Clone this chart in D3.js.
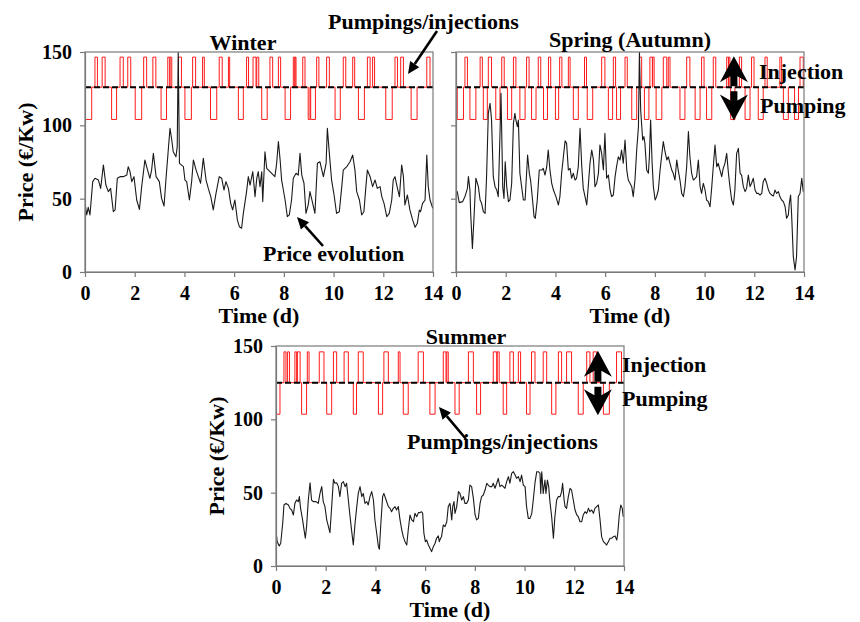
<!DOCTYPE html>
<html>
<head>
<meta charset="utf-8">
<script src="https://cdn.jsdelivr.net/npm/d3@7"></script>
<style>
  body { margin: 0; background: #fff; }
  text { font-family: 'Liberation Serif', 'Times New Roman', serif; font-weight: bold; fill: #000; }
</style>
</head>
<body>
<svg id="chart" width="860" height="622"></svg>
<script>
// ---- axis ticks ----
const dayTicks = [0, 2, 4, 6, 8, 10, 12, 14];
const priceTicks = [0, 50, 100, 150];
const dayDomain = [0, 14];
const priceDomain = [0, 150];

// ---- storage operation levels (price units on the shared axis) ----
const winterLevels = { idle: 126, inject: 146.5, pump: 104 };
const springLevels = { idle: 126, inject: 146.5, pump: 104 };
const summerLevels = { idle: 125, inject: 146, pump: 103.5 };

// ---- winter: price (day, €/Kw) ----
const winterPrice = [[0.00,46.8],[0.07,38.9],[0.13,44.1],[0.20,38.9],[0.31,61.6],[0.40,63.9],[0.54,62.7],[0.63,57.0],[0.74,73.0],[0.84,59.3],[0.94,54.8],[1.03,57.0],[1.14,41.1],[1.21,42.3],[1.30,63.9],[1.41,65.0],[1.54,65.0],[1.68,66.1],[1.74,71.8],[1.81,68.4],[1.88,61.6],[1.97,65.0],[2.08,49.1],[2.19,42.7],[2.28,58.2],[2.41,76.4],[2.48,71.8],[2.61,63.9],[2.68,69.5],[2.75,80.9],[2.86,65.0],[2.99,61.6],[3.08,50.2],[3.18,45.0],[3.26,63.9],[3.35,83.2],[3.42,98.0],[3.49,90.0],[3.55,82.0],[3.66,78.6],[3.71,85.5],[3.75,150],[3.80,74.1],[3.96,71.8],[4.02,62.7],[4.09,61.6],[4.20,49.1],[4.29,61.6],[4.36,76.4],[4.47,69.5],[4.56,65.0],[4.65,60.5],[4.76,77.5],[4.87,62.7],[4.96,57.0],[5.06,51.4],[5.16,42.3],[5.27,53.6],[5.40,65.0],[5.50,63.9],[5.59,55.9],[5.67,61.6],[5.77,57.0],[5.86,46.8],[5.94,42.3],[6.03,49.1],[6.13,35.5],[6.21,30.9],[6.30,29.8],[6.37,40.0],[6.50,54.8],[6.57,65.0],[6.64,59.3],[6.75,68.4],[6.84,51.4],[6.91,63.9],[6.97,68.4],[7.04,58.2],[7.11,68.4],[7.15,48.0],[7.24,82.0],[7.31,70.7],[7.38,69.5],[7.51,67.3],[7.64,65.0],[7.71,74.1],[7.78,88.9],[7.85,76.4],[7.91,62.7],[7.98,55.9],[8.05,49.1],[8.14,37.7],[8.22,38.9],[8.31,49.1],[8.38,63.9],[8.49,67.3],[8.58,66.1],[8.65,80.9],[8.72,66.1],[8.81,60.5],[8.89,40.0],[8.98,45.7],[9.05,54.8],[9.16,46.8],[9.25,40.0],[9.35,74.1],[9.45,75.2],[9.59,65.0],[9.70,74.1],[9.75,98.0],[9.83,80.9],[9.92,62.7],[10.02,52.5],[10.12,40.0],[10.23,41.1],[10.33,58.2],[10.39,69.5],[10.53,71.8],[10.66,75.2],[10.77,79.8],[10.86,69.5],[10.93,54.8],[11.04,49.1],[11.13,38.9],[11.22,41.1],[11.30,58.2],[11.36,69.5],[11.47,65.0],[11.57,58.2],[11.67,62.7],[11.76,57.0],[11.87,58.2],[11.94,51.4],[12.03,46.8],[12.14,37.7],[12.24,40.0],[12.34,49.1],[12.40,62.7],[12.47,65.0],[12.57,57.0],[12.65,51.4],[12.74,73.0],[12.81,65.0],[12.87,45.7],[12.97,52.5],[13.07,42.3],[13.18,35.5],[13.28,30.5],[13.37,33.2],[13.45,42.3],[13.50,41.1],[13.58,46.8],[13.68,49.1],[13.75,79.8],[13.81,58.2],[13.88,49.1],[13.99,43.4]];

// winter injection / pumping periods [start day, end day]
const winterInject = [[0.40,0.50],[0.69,0.81],[1.41,1.54],[1.72,1.84],[2.36,2.48],[2.73,2.85],[3.33,3.41],[3.42,3.49],[3.76,3.88],[4.33,4.45],[4.73,4.80],[5.40,5.52],[5.77,5.82],[6.50,6.58],[6.76,6.88],[6.91,6.99],[7.44,7.55],[7.78,7.87],[8.38,8.44],[8.45,8.49],[8.76,8.85],[9.32,9.41],[9.72,9.83],[10.39,10.49],[10.77,10.85],[11.36,11.47],[11.57,11.65],[12.47,12.57],[12.70,12.81],[13.75,13.88]];
const winterPump = [[0.00,0.27],[1.07,1.27],[2.02,2.28],[3.06,3.28],[4.02,4.28],[5.05,5.30],[6.17,6.37],[7.11,7.33],[8.05,8.27],[8.98,9.05],[9.08,9.27],[10.06,10.27],[11.00,11.24],[12.10,12.36],[13.12,13.36]];

// ---- spring (autumn): price ----
const springPrice = [[0.00,53.6],[0.05,54.8],[0.13,47.3],[0.27,48.0],[0.36,51.4],[0.46,57.0],[0.50,65.0],[0.56,55.9],[0.59,40.0],[0.66,16.1],[0.72,35.5],[0.80,63.9],[0.90,58.2],[0.97,49.1],[1.03,46.8],[1.10,41.1],[1.17,40.0],[1.23,65.0],[1.30,108.2],[1.37,115.0],[1.43,103.6],[1.50,65.0],[1.57,58.2],[1.64,55.9],[1.70,51.4],[1.77,94.5],[1.81,121.8],[1.88,58.2],[1.93,50.2],[1.98,75.2],[2.04,58.2],[2.11,48.0],[2.17,49.1],[2.24,60.5],[2.31,101.4],[2.37,108.2],[2.41,103.6],[2.47,99.1],[2.51,103.6],[2.57,67.3],[2.64,58.2],[2.71,49.1],[2.78,49.1],[2.84,67.3],[2.88,79.8],[2.95,67.3],[3.00,62.7],[3.08,49.1],[3.14,37.7],[3.19,36.6],[3.27,49.1],[3.35,69.5],[3.45,69.5],[3.51,70.7],[3.58,66.1],[3.65,71.8],[3.71,83.2],[3.78,69.5],[3.85,60.5],[3.92,55.9],[4.02,51.4],[4.12,45.7],[4.18,51.4],[4.25,67.3],[4.32,78.6],[4.39,89.5],[4.45,87.7],[4.52,69.5],[4.59,70.7],[4.65,63.9],[4.72,67.3],[4.79,62.7],[4.85,63.9],[4.92,71.8],[4.99,98.0],[5.06,71.8],[5.12,57.0],[5.19,51.4],[5.26,45.7],[5.32,58.2],[5.39,74.1],[5.46,83.2],[5.53,76.4],[5.59,58.2],[5.66,60.5],[5.73,67.3],[5.79,86.6],[5.86,80.9],[5.93,69.5],[5.99,94.5],[6.06,63.9],[6.13,66.1],[6.20,55.9],[6.26,51.4],[6.33,52.5],[6.40,65.0],[6.46,71.8],[6.53,78.6],[6.60,76.4],[6.66,83.2],[6.73,74.1],[6.80,90.0],[6.87,69.5],[6.93,62.7],[7.00,60.5],[7.07,58.2],[7.13,51.4],[7.20,62.7],[7.27,83.2],[7.34,99.1],[7.38,150],[7.43,110.5],[7.51,90.0],[7.56,92.3],[7.60,87.7],[7.67,69.5],[7.74,67.3],[7.78,78.6],[7.83,103.6],[7.89,74.1],[7.94,58.2],[8.01,49.1],[8.07,51.4],[8.14,55.9],[8.21,69.5],[8.27,78.6],[8.34,88.9],[8.41,82.0],[8.48,76.4],[8.54,78.6],[8.61,74.1],[8.68,69.5],[8.74,67.3],[8.81,62.7],[8.88,76.4],[8.94,69.5],[9.01,62.7],[9.08,53.6],[9.15,51.4],[9.21,58.2],[9.28,71.8],[9.35,95.7],[9.41,78.6],[9.48,67.3],[9.55,62.7],[9.62,63.9],[9.68,65.0],[9.75,76.4],[9.82,58.2],[9.88,53.6],[9.95,60.5],[10.02,55.9],[10.08,49.1],[10.15,48.0],[10.22,44.5],[10.29,58.2],[10.35,71.8],[10.42,86.6],[10.49,71.8],[10.55,74.1],[10.62,69.5],[10.69,65.0],[10.75,70.7],[10.82,74.1],[10.89,80.9],[10.96,67.3],[11.02,58.2],[11.09,49.1],[11.16,45.7],[11.22,55.9],[11.29,80.9],[11.36,84.3],[11.43,67.3],[11.49,66.1],[11.56,58.2],[11.63,54.8],[11.69,57.0],[11.76,66.1],[11.83,58.2],[11.89,60.5],[11.96,63.9],[12.03,55.9],[12.10,53.6],[12.16,53.6],[12.23,52.5],[12.30,53.6],[12.36,61.6],[12.43,63.9],[12.50,60.5],[12.57,55.9],[12.63,53.6],[12.70,52.5],[12.77,51.8],[12.83,55.9],[12.90,53.6],[12.97,54.8],[13.03,51.4],[13.10,49.1],[13.17,48.0],[13.24,44.5],[13.30,36.6],[13.37,38.9],[13.41,46.8],[13.46,52.5],[13.50,40.0],[13.57,10.5],[13.64,1.4],[13.70,10.5],[13.77,51.4],[13.84,53.6],[13.91,63.9],[13.97,54.8]];

const springInject = [[0.36,0.46],[0.97,1.06],[1.30,1.43],[1.84,1.94],[2.31,2.41],[2.84,2.94],[3.31,3.41],[3.72,3.81],[4.17,4.26],[4.52,4.59],[5.17,5.25],[5.86,5.99],[6.33,6.42],[6.80,6.89],[7.38,7.47],[7.80,7.90],[7.91,7.97],[8.34,8.48],[8.54,8.61],[9.28,9.41],[9.88,9.98],[10.35,10.45],[10.89,10.96],[10.97,11.02],[11.40,11.49],[11.89,11.99],[12.43,12.52],[13.03,13.10],[13.84,13.97]];
const springPump = [[0.05,0.30],[0.56,0.80],[1.10,1.26],[1.60,1.77],[2.07,2.24],[2.57,2.78],[3.04,3.22],[3.52,3.68],[4.00,4.13],[4.72,4.92],[5.28,5.50],[6.13,6.30],[6.46,6.62],[7.07,7.27],[7.58,7.76],[8.05,8.28],[9.01,9.21],[9.62,9.82],[10.08,10.29],[11.05,11.22],[11.63,11.83],[12.16,12.36],[13.17,13.37],[13.62,13.78]];

// ---- summer: price ----
const summerPrice = [[0.00,23.4],[0.05,16.6],[0.13,13.6],[0.19,15.5],[0.27,29.1],[0.32,41.6],[0.40,42.7],[0.50,41.6],[0.56,39.3],[0.63,38.2],[0.70,34.8],[0.76,42.7],[0.83,45.0],[0.90,43.9],[0.94,47.3],[0.99,39.3],[1.07,31.4],[1.13,24.5],[1.18,18.9],[1.23,26.8],[1.30,45.0],[1.37,56.8],[1.43,45.0],[1.50,43.9],[1.61,43.9],[1.70,42.7],[1.77,49.5],[1.84,54.1],[1.90,43.9],[1.97,40.5],[2.04,31.4],[2.11,26.8],[2.17,22.7],[2.24,40.5],[2.31,59.1],[2.37,56.4],[2.44,56.8],[2.51,54.1],[2.57,47.3],[2.64,56.4],[2.71,57.5],[2.78,54.1],[2.84,56.4],[2.91,45.0],[2.98,33.6],[3.04,24.5],[3.11,14.3],[3.18,29.1],[3.25,40.5],[3.31,49.5],[3.38,54.1],[3.45,47.3],[3.51,49.5],[3.58,42.7],[3.65,43.9],[3.71,41.6],[3.78,47.3],[3.85,50.7],[3.92,45.0],[3.98,31.4],[4.05,22.3],[4.12,13.2],[4.16,11.4],[4.21,26.8],[4.29,47.3],[4.34,49.5],[4.43,45.0],[4.52,40.5],[4.59,39.3],[4.65,37.0],[4.72,39.3],[4.79,40.5],[4.85,38.2],[4.92,40.5],[4.99,31.4],[5.06,24.5],[5.12,20.0],[5.19,16.6],[5.26,14.3],[5.32,24.5],[5.39,34.8],[5.46,31.4],[5.53,30.2],[5.59,35.9],[5.66,33.6],[5.73,36.4],[5.79,36.4],[5.86,37.0],[5.90,35.9],[5.95,22.3],[6.01,16.6],[6.06,17.7],[6.13,14.3],[6.20,12.0],[6.26,9.8],[6.33,13.2],[6.40,15.5],[6.46,18.9],[6.53,20.5],[6.57,16.6],[6.62,18.9],[6.66,20.0],[6.73,28.0],[6.80,26.8],[6.87,30.2],[6.93,40.5],[7.00,42.7],[7.07,31.4],[7.11,40.5],[7.16,43.9],[7.20,35.9],[7.27,40.5],[7.34,50.7],[7.40,49.5],[7.47,45.0],[7.54,47.3],[7.60,42.7],[7.67,42.7],[7.74,45.0],[7.80,55.2],[7.87,54.1],[7.94,46.1],[8.01,34.8],[8.07,31.4],[8.14,32.5],[8.21,42.7],[8.27,47.3],[8.34,48.4],[8.41,51.8],[8.48,56.4],[8.54,55.2],[8.61,54.1],[8.68,54.1],[8.74,56.4],[8.81,53.0],[8.88,56.4],[8.94,59.8],[9.01,54.1],[9.08,55.2],[9.15,54.1],[9.21,53.0],[9.28,57.5],[9.35,60.9],[9.41,56.4],[9.48,63.2],[9.55,64.3],[9.62,62.0],[9.68,59.8],[9.75,60.9],[9.82,57.5],[9.88,62.0],[9.95,55.2],[10.02,54.1],[10.08,40.5],[10.15,32.5],[10.22,32.5],[10.29,35.9],[10.35,45.0],[10.42,56.8],[10.49,64.3],[10.55,64.3],[10.62,63.2],[10.65,49.5],[10.69,64.3],[10.75,49.5],[10.82,58.6],[10.86,49.5],[10.92,58.6],[10.97,54.1],[11.02,43.9],[11.09,33.6],[11.16,18.9],[11.22,33.6],[11.29,45.0],[11.36,47.3],[11.43,47.3],[11.49,50.7],[11.53,56.4],[11.59,45.0],[11.63,40.5],[11.69,39.3],[11.76,47.3],[11.83,53.0],[11.89,51.8],[11.96,45.0],[12.03,38.2],[12.10,34.8],[12.16,33.6],[12.23,30.2],[12.30,30.2],[12.36,34.8],[12.43,37.0],[12.50,35.9],[12.57,39.3],[12.63,37.0],[12.70,38.2],[12.77,35.9],[12.83,39.3],[12.90,40.5],[12.97,41.6],[13.03,32.5],[13.10,20.0],[13.17,16.6],[13.24,15.5],[13.30,14.3],[13.37,16.6],[13.44,18.9],[13.50,18.9],[13.57,20.0],[13.64,20.5],[13.71,17.7],[13.75,22.3],[13.81,34.8],[13.87,41.6],[13.93,39.3],[13.97,33.6]];

const summerInject = [[0.32,0.40],[0.46,0.54],[0.76,0.83],[0.86,0.97],[1.26,1.33],[1.74,1.93],[2.31,2.44],[2.74,2.91],[3.31,3.51],[4.34,4.52],[4.92,4.99],[5.72,5.93],[6.73,6.84],[6.87,6.93],[7.74,7.94],[8.74,8.88],[8.90,8.98],[9.41,9.55],[9.75,9.84],[10.28,10.42],[10.75,10.89],[11.36,11.49],[11.69,11.89],[12.50,12.63],[12.76,12.90],[13.70,13.90]];
const summerPump = [[0.00,0.16],[1.03,1.23],[2.04,2.24],[3.11,3.24],[4.12,4.29],[5.12,5.32],[6.19,6.40],[7.20,7.37],[8.07,8.23],[9.14,9.28],[10.08,10.22],[11.09,11.26],[12.16,12.36],[13.17,13.41]];

// ---------------------------------------------------------------------------
const svg = d3.select('#chart');
const defs = svg.append('defs');
const PW = 348, PH = 220;
const FONT = "'Liberation Serif', 'Times New Roman', serif";

// Step trace: idle level, jumps to inject/pump level for each period
function operationTrace(inject, pump, lv) {
  const periods = inject.map(p => [p[0], p[1], lv.inject])
    .concat(pump.map(p => [p[0], p[1], lv.pump]))
    .sort((a, b) => a[0] - b[0]);
  const pts = [[dayDomain[0], lv.idle]];
  periods.forEach(([s, e, l]) => {
    pts.push([s, lv.idle], [s, l], [e, l], [e, lv.idle]);
  });
  pts.push([dayDomain[1], lv.idle]);
  return pts;
}

function arrowLine(g, x1, y1, x2, y2) {
  const ang = Math.atan2(y2 - y1, x2 - x1);
  const L = 12, W = 5.5;
  const bx = x2 - L * Math.cos(ang), by = y2 - L * Math.sin(ang);
  g.append('line').attr('x1', x1).attr('y1', y1).attr('x2', bx).attr('y2', by)
    .attr('stroke', '#000').attr('stroke-width', 2.6);
  g.append('path')
    .attr('d', `M${x2},${y2}L${bx - W * Math.sin(ang)},${by + W * Math.cos(ang)}L${bx + W * Math.sin(ang)},${by - W * Math.cos(ang)}Z`)
    .attr('fill', '#000');
}

// Bold up/down arrows marking injection (up) and pumping (down)
function bigArrows(g, cx, yIdle, yTop, yBot) {
  const hw = 14, head = 26, sw = 3.5;
  g.append('path')
    .attr('d', `M${cx},${yTop} L${cx + hw},${yTop + head} L${cx + sw},${yTop + head - 6} L${cx + sw},${yIdle - 1} L${cx - sw},${yIdle - 1} L${cx - sw},${yTop + head - 6} L${cx - hw},${yTop + head} Z`)
    .attr('fill', '#000');
  g.append('path')
    .attr('d', `M${cx},${yBot} L${cx + hw},${yBot - head} L${cx + sw},${yBot - head + 6} L${cx + sw},${yIdle + 4} L${cx - sw},${yIdle + 4} L${cx - sw},${yBot - head + 6} L${cx - hw},${yBot - head} Z`)
    .attr('fill', '#000');
}

function drawPanel(cfg) {
  const g = svg.append('g').attr('transform', `translate(${cfg.left},${cfg.top})`);
  const x = d3.scaleLinear().domain(dayDomain).range([0, PW]);
  const y = d3.scaleLinear().domain(priceDomain).range([PH, 0]);

  const clipId = 'clip-' + cfg.id;
  defs.append('clipPath').attr('id', clipId)
    .append('rect').attr('x', 0).attr('y', 0).attr('width', PW).attr('height', PH);

  const line = d3.line().x(d => x(d[0])).y(d => y(d[1]));
  const plot = g.append('g').attr('clip-path', `url(#${clipId})`);

  // pumping / injection schedule
  plot.append('path')
    .datum(operationTrace(cfg.inject, cfg.pump, cfg.levels))
    .attr('d', line)
    .attr('fill', 'none').attr('stroke', '#ff1a1a').attr('stroke-width', 1);

  // reference level
  plot.append('line')
    .attr('x1', x(dayDomain[0])).attr('x2', x(dayDomain[1]))
    .attr('y1', y(cfg.levels.idle)).attr('y2', y(cfg.levels.idle))
    .attr('stroke', '#000').attr('stroke-width', 2).attr('stroke-dasharray', '6,3');

  // price evolution
  plot.append('path')
    .datum(cfg.price)
    .attr('d', line)
    .attr('fill', 'none').attr('stroke', '#1a1a1a').attr('stroke-width', 1.1)
    .attr('stroke-linejoin', 'round');

  // frame
  g.append('rect').attr('x', 0).attr('y', 0).attr('width', PW).attr('height', PH)
    .attr('fill', 'none').attr('stroke', '#7a7a7a').attr('stroke-width', 1.2);

  // axes
  const xAxis = g.append('g').attr('transform', `translate(0,${PH})`)
    .call(d3.axisBottom(x).tickValues(dayTicks).tickSize(5).tickSizeOuter(0).tickPadding(9).tickFormat(d3.format('d')));
  const yAxis = g.append('g')
    .call(d3.axisLeft(y).tickValues(priceTicks).tickSize(5).tickSizeOuter(0).tickPadding(8)
      .tickFormat(cfg.yLabels ? d3.format('d') : () => ''));
  [xAxis, yAxis].forEach(a => {
    a.selectAll('.domain').attr('stroke', '#7a7a7a').attr('stroke-width', 1.2);
    a.selectAll('.tick line').attr('stroke', '#7a7a7a').attr('stroke-width', 1.2);
    a.selectAll('.tick text')
      .style('font-family', FONT)
      .style('font-weight', 'bold').style('font-size', '20px').attr('fill', '#000');
  });

  // title
  g.append('text').attr('x', cfg.titleX).attr('y', cfg.titleY)
    .attr('text-anchor', 'middle').style('font-size', '22px').text(cfg.title);

  // axis titles
  g.append('text').attr('x', PW / 2).attr('y', PH + 51)
    .attr('text-anchor', 'middle').style('font-size', '22px').text('Time (d)');
  if (cfg.yLabels) {
    g.append('text').attr('transform', `translate(-52,${PH / 2}) rotate(-90)`)
      .attr('text-anchor', 'middle').style('font-size', '22px').text('Price (€/Kw)');
  }

  return { g, x, y };
}

// ---- panels ----
const winter = drawPanel({ id: 'winter', left: 85, top: 52, price: winterPrice, inject: winterInject, pump: winterPump,
  levels: winterLevels, title: 'Winter', titleX: 158, titleY: -2, yLabels: true });
const spring = drawPanel({ id: 'spring', left: 456, top: 52, price: springPrice, inject: springInject, pump: springPump,
  levels: springLevels, title: 'Spring (Autumn)', titleX: 174, titleY: -5, yLabels: false });
const summer = drawPanel({ id: 'summer', left: 276, top: 346, price: summerPrice, inject: summerInject, pump: summerPump,
  levels: summerLevels, title: 'Summer', titleX: 190, titleY: -2, yLabels: true });

// ---- annotations ----
const ann = svg.append('g');
ann.append('text').attr('x', 328).attr('y', 29).style('font-size', '22px').text('Pumpings/injections');
arrowLine(ann, 437, 31, 408, 74);
ann.append('text').attr('x', 263).attr('y', 261).style('font-size', '22px').text('Price evolution');
arrowLine(ann, 323, 246, 297, 217);

// spring: injection / pumping markers
{
  const cx = 456 + spring.x(11.18), top = 52;
  bigArrows(ann, cx, top + spring.y(springLevels.idle), top + spring.y(springLevels.inject) - 1, top + spring.y(springLevels.pump) + 1);
  ann.append('text').attr('x', 759).attr('y', 79).style('font-size', '22px').text('Injection');
  ann.append('text').attr('x', 760).attr('y', 113).style('font-size', '22px').text('Pumping');
}
// summer
{
  const cx = 276 + summer.x(12.95), top = 346;
  bigArrows(ann, cx, top + summer.y(summerLevels.idle), top + summer.y(summerLevels.inject) - 1, top + summer.y(summerLevels.pump) + 1);
  ann.append('text').attr('x', 622).attr('y', 372).style('font-size', '22px').text('Injection');
  ann.append('text').attr('x', 622).attr('y', 406).style('font-size', '22px').text('Pumping');
  ann.append('text').attr('x', 407).attr('y', 449).style('font-size', '22px').text('Pumpings/injections');
  arrowLine(ann, 466, 439, 439, 407);
}
</script>
</body>
</html>
